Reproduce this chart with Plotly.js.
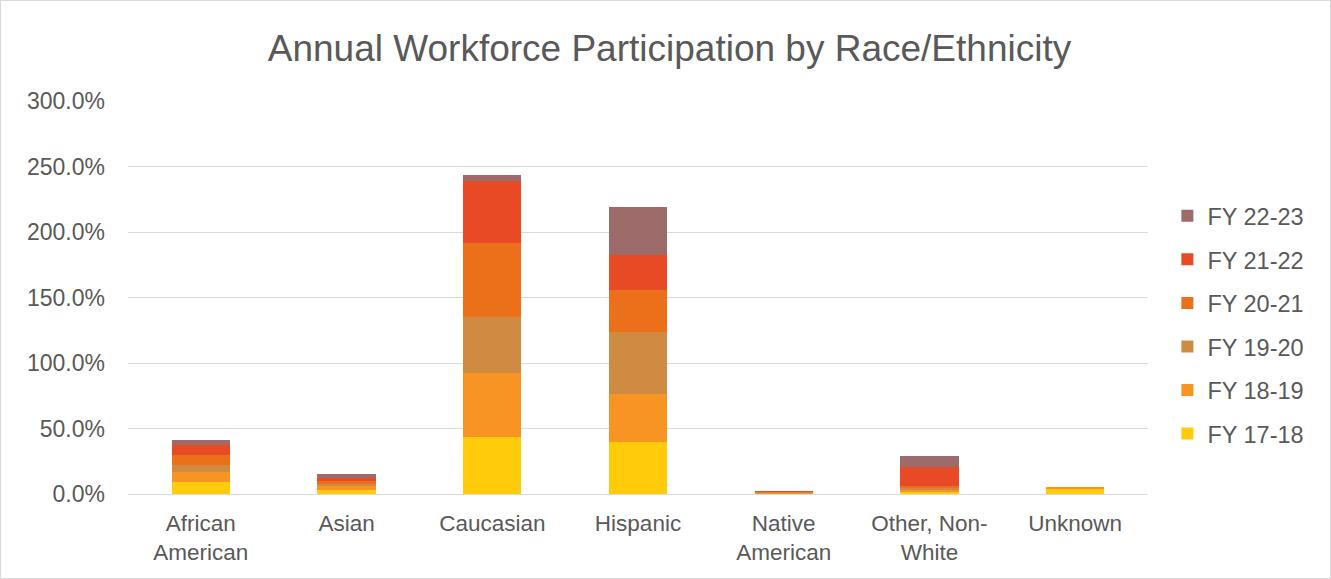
<!DOCTYPE html>
<html>
<head>
<meta charset="utf-8">
<script src="https://cdn.plot.ly/plotly-3.0.1.min.js"></script>
<style>
  html, body { margin: 0; padding: 0; background: #fff; }
  #chart { width: 1329px; height: 577px; border: 1px solid #d9d9d9; }
</style>
</head>
<body>
<div id="chart"></div>
<script>
const categories = ["African<br>American", "Asian", "Caucasian", "Hispanic", "Native<br>American", "Other, Non-<br>White", "Unknown"];
const seriesNames = ["FY 17-18", "FY 18-19", "FY 19-20", "FY 20-21", "FY 21-22", "FY 22-23"];
const fy1718 = [9.2, 3.0, 43.5, 39.7, 0.3, 1.9, 4.0];
const fy1819 = [7.6, 3.0, 48.9, 36.6, 0.5, 1.4, 1.3];
const fy1920 = [5.6, 2.0, 42.7, 47.3, 0.4, 1.5, 0.1];
const fy2021 = [7.4, 2.0, 56.5, 32.1, 0.5, 1.5, 0.1];
const fy2122 = [7.6, 2.5, 47.3, 26.7, 0.4, 14.0, 0.1];
const fy2223 = [3.8, 2.8, 4.5, 36.6, 0.2, 8.6, 0.1];
const seriesValues = [fy1718, fy1819, fy1920, fy2021, fy2122, fy2223];
const colors = ["#FFCB0A", "#F79423", "#CF8B42", "#EC6F1A", "#E84A25", "#9E6B6B"];
const yTicks = [0, 50, 100, 150, 200, 250, 300];

const font = "Liberation Sans, Arial, sans-serif";
const traces = seriesNames.map((name, i) => ({
  type: "bar",
  name: name,
  x: categories,
  y: seriesValues[i],
  marker: { color: colors[i] },
  legendgroup: "g" + i,
  legendrank: 100 - i
}));

const layout = {
  width: 1329,
  height: 577,
  barmode: "stack",
  bargap: 0.6,
  paper_bgcolor: "#fff",
  plot_bgcolor: "#fff",
  margin: { l: 127, r: 182, t: 100, b: 84 },
  title: {
    text: "Annual Workforce Participation by Race/Ethnicity",
    x: 0.503, xanchor: "center", y: 0.918, yanchor: "middle",
    font: { family: font, size: 37, color: "#595959" }
  },
  xaxis: {
    tickfont: { family: font, size: 22.5, color: "#595959" },
    showline: true, linecolor: "#d9d9d9", linewidth: 1,
    ticks: "", ticklabelstandoff: 9
  },
  yaxis: {
    range: [0, 300],
    tickvals: yTicks,
    ticktext: yTicks.map(v => v.toFixed(1) + "%"),
    tickfont: { family: font, size: 23, color: "#595959" },
    gridcolor: "#d9d9d9", gridwidth: 1,
    zeroline: false, showline: false, ticks: "",
    ticklabelstandoff: 22
  },
  legend: {
    x: 1.019, xanchor: "left", y: 0.43, yanchor: "middle",
    traceorder: "grouped",
    tracegroupgap: 10,
    font: { family: font, size: 23.5, color: "#595959" },
    itemwidth: 30
  },
  showlegend: true
};

Plotly.newPlot("chart", traces, layout, { displayModeBar: false, staticPlot: true });
</script>
</body>
</html>
